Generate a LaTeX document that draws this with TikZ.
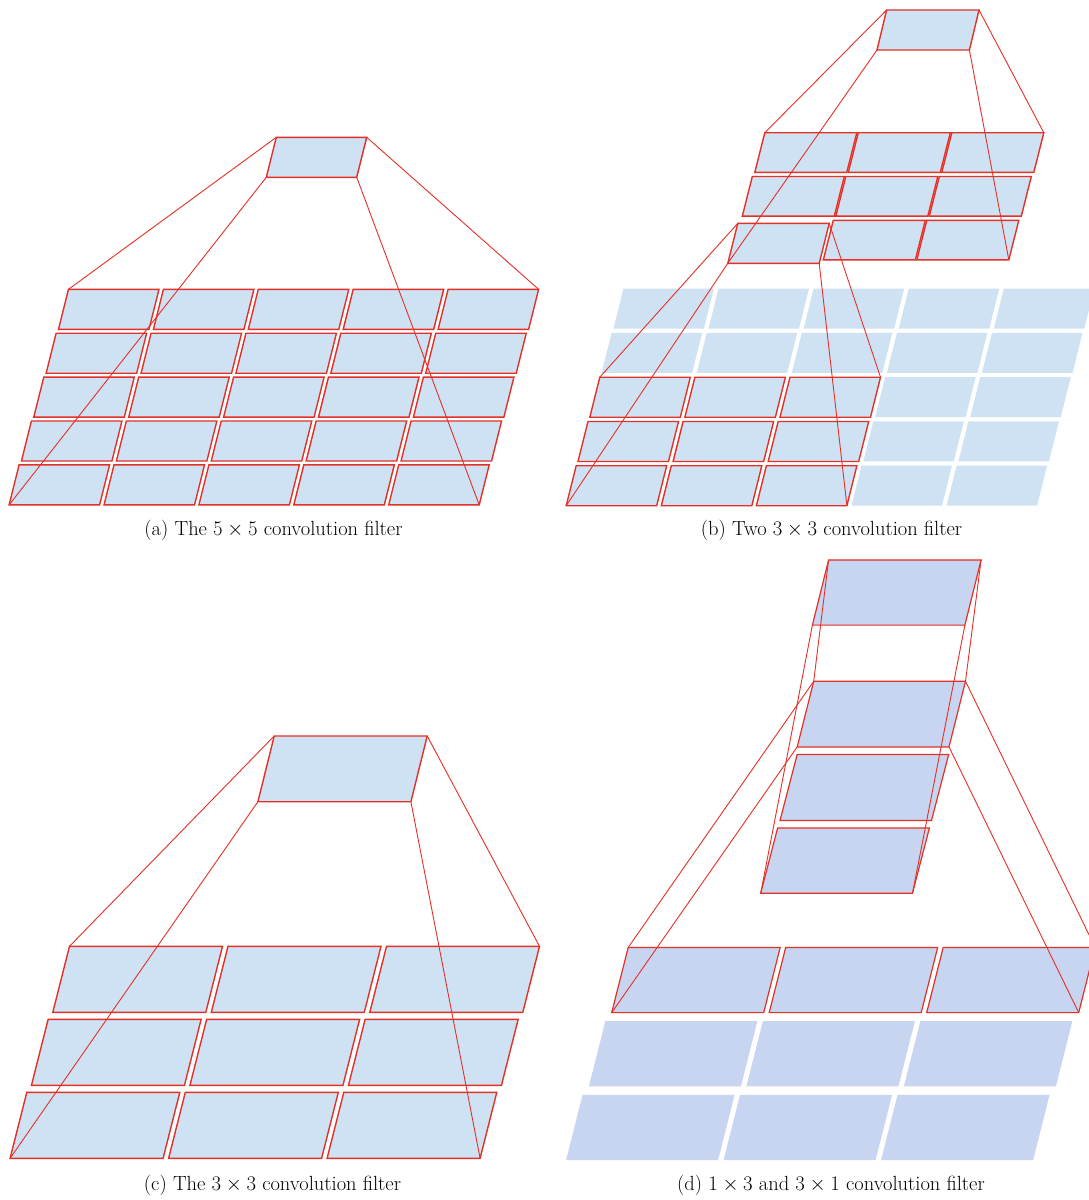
\documentclass[tikz,border=0pt]{standalone}
\usepackage{fontspec}
\definecolor{cellA}{RGB}{207,226,244}
\definecolor{cellD}{RGB}{199,213,240}
\definecolor{redl}{RGB}{228,48,38}
\tikzset{
  litcell/.style={fill=cellA, draw=redl, line width=1.4pt},
  dimcell/.style={fill=cellA},
  litcelld/.style={fill=cellD, draw=redl, line width=1.2pt},
  dimcelld/.style={fill=cellD},
  link/.style={draw=redl, line width=0.9pt},
  caption/.style={font=\fontsize{20.5}{24}\selectfont, inner sep=0pt}
}
% #1 name, #2 style, #3 x, #4 y (top-left), #5 width, #6 height, #7 slant offset
\newcommand{\pgram}[7]{%
  \coordinate (#1-tl) at (#3,#4);
  \coordinate (#1-tr) at ({#3+#5},#4);
  \coordinate (#1-br) at ({#3+#5-#7},{#4+#6});
  \coordinate (#1-bl) at ({#3-#7},{#4+#6});
  \path[#2] (#1-tl) -- (#1-tr) -- (#1-br) -- (#1-bl) -- cycle;
}
\begin{document}
\begin{tikzpicture}[x=1pt,y=-1pt]
\useasboundingbox (0,0) rectangle (1089,1200);
\fill[white] (0,0) rectangle (1089,1200);

% ---------------- (a) ----------------
\foreach \i in {0,...,4}{\foreach \j in {0,...,4}{
  \pgfmathsetmacro\cx{68.5+94.9*\j-12.35*\i}
  \pgfmathsetmacro\cy{289.3+43.9*\i}
  \pgram{a\i\j}{litcell}{\cx}{\cy}{90.5}{40}{10}
}}
\pgram{aT}{litcell}{276.3}{137.3}{90.4}{40}{10}
\draw[link] (aT-tl) -- (a00-tl);
\draw[link] (aT-tr) -- (a04-tr);
\draw[link] (aT-bl) -- (a40-bl);
\draw[link] (aT-br) -- (a44-br);
\node[caption] (capa) at (273.5,530) {(a) The $5\times 5$ convolution filter};

% ---------------- (b) ----------------
\foreach \i in {0,...,4}{\foreach \j in {0,...,4}{
  \pgfmathsetmacro\cx{623.4+95.1*\j-11.8*\i}
  \pgfmathsetmacro\cy{288.7+44.25*\i}
  \pgram{bl\i\j}{dimcell}{\cx}{\cy}{90.5}{40}{10}
}}
\foreach \i in {2,3,4}{\foreach \j in {0,1,2}{
  \pgfmathsetmacro\cx{623.4+95.1*\j-11.8*\i}
  \pgfmathsetmacro\cy{288.7+44.25*\i}
  \pgram{bl\i\j}{litcell}{\cx}{\cy}{90.5}{40}{10}
}}
\foreach \i/\j in {0/0,0/1,0/2,1/0,1/1,1/2,2/1,2/2}{
  \pgfmathsetmacro\cx{764.8+93.5*\j-12.5*\i}
  \pgfmathsetmacro\cy{132.7+43.8*\i}
  \pgram{bm\i\j}{litcell}{\cx}{\cy}{92}{39.6}{10}
}
\pgram{bS}{litcell}{737.8}{223.3}{91.4}{40}{10}
\pgram{bT}{litcell}{886.6}{10}{92.4}{40}{9.6}
\draw[link] (bT-tl) -- (bm00-tl);
\draw[link] (bT-tr) -- (bm02-tr);
\draw[link] (bT-bl) -- (bS-bl);
\draw[link] (bT-br) -- (bm22-br);
\draw[link] (bS-tl) -- (bl20-tl);
\draw[link] (bS-tr) -- (bl22-tr);
\draw[link] (bS-bl) -- (bl40-bl);
\draw[link] (bS-br) -- (bl42-br);
\node[caption] (capb) at (831.5,530) {(b) Two $3\times 3$ convolution filter};

% ---------------- (c) ----------------
\foreach \i in {0,1,2}{\foreach \j in {0,1,2}{
  \pgfmathsetmacro\cx{69.5+158.5*\j-21.35*\i}
  \pgfmathsetmacro\cy{946.3+73*\i}
  \pgram{c\i\j}{litcell}{\cx}{\cy}{153}{66}{16.7}
}}
\pgram{cT}{litcell}{274.2}{736}{153}{65.7}{16.3}
\draw[link] (cT-tl) -- (c00-tl);
\draw[link] (cT-tr) -- (c02-tr);
\draw[link] (cT-bl) -- (c20-bl);
\draw[link] (cT-br) -- (c22-br);
\node[caption] (capc) at (272.5,1185) {(c) The $3\times 3$ convolution filter};

% ---------------- (d) ----------------
\foreach \i in {1,2}{\foreach \j in {0,1,2}{
  \pgfmathsetmacro\cx{628.2+157.5*\j-22.8*\i}
  \pgfmathsetmacro\cy{947.4+73.7*\i}
  \pgram{d\i\j}{dimcelld}{\cx}{\cy}{152}{65.2}{16.5}
}}
\foreach \j in {0,1,2}{
  \pgfmathsetmacro\cx{628.2+157.5*\j}
  \pgram{d0\j}{litcelld}{\cx}{947.4}{152}{65.2}{16.5}
}
\pgram{dT}{litcelld}{828.6}{559.9}{152.5}{65.2}{16.2}
\pgram{dS1}{litcelld}{813.7}{681.3}{151.8}{65.6}{16.5}
\pgram{dS2}{litcelld}{797.2}{754.4}{151.5}{66.1}{17.2}
\pgram{dS3}{litcelld}{777.6}{828}{151.8}{65.2}{16.9}
\draw[link] (dT-tl) -- (dS1-tl);
\draw[link] (dT-tr) -- (dS1-tr);
\draw[link] (dT-bl) -- (dS3-bl);
\draw[link] (dT-br) -- (dS3-br);
\draw[link] (dS1-tl) -- (d00-tl);
\draw[link] (dS1-tr) -- (d02-tr);
\draw[link] (dS1-bl) -- (d00-bl);
\draw[link] (dS1-br) -- (d02-br);
\node[caption] (capd) at (831,1185) {(d) $1\times 3$ and $3\times 1$ convolution filter};
\end{tikzpicture}
\end{document}
